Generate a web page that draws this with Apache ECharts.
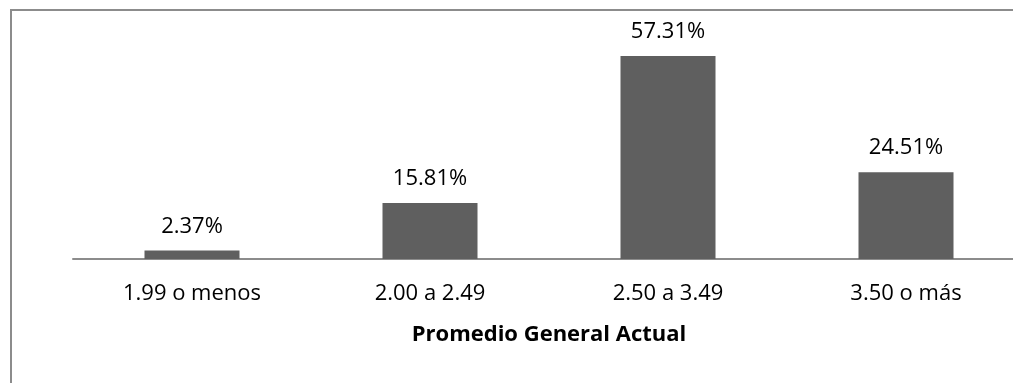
<!DOCTYPE html>
<html>
<head>
<meta charset="utf-8">
<script src="https://cdn.jsdelivr.net/npm/echarts@6/dist/echarts.min.js"></script>
<style>
  html, body { margin: 0; padding: 0; background: #ffffff; overflow: hidden; }
  #chart { width: 1013px; height: 383px; }
</style>
</head>
<body>
<div id="chart"></div>
<script>
// Distribución por promedio general actual (porcentaje de estudiantes)
const categories = ['1.99 o menos', '2.00 a 2.49', '2.50 a 3.49', '3.50 o más'];
const percentages = [2.37, 15.81, 57.31, 24.51];
const axisTitle = 'Promedio General Actual';

const fontFamily = '"Open Sans", "Liberation Sans", sans-serif';

const chart = echarts.init(document.getElementById('chart'), null, { renderer: 'canvas' });

chart.setOption({
  backgroundColor: '#ffffff',
  animation: false,
  // chart frame: only its top and left edges fall inside the canvas
  graphic: [
    {
      type: 'line',
      shape: { x1: 11, y1: 10, x2: 1200, y2: 10 },
      style: { stroke: '#8c8c8c', lineWidth: 2 },
      silent: true
    },
    {
      type: 'line',
      shape: { x1: 11, y1: 9, x2: 11, y2: 383 },
      style: { stroke: '#8c8c8c', lineWidth: 2 },
      silent: true
    }
  ],
  grid: { left: 73, top: 11, width: 952, height: 248, outerBoundsMode: 'none' },
  xAxis: {
    type: 'category',
    data: categories,
    name: axisTitle,
    nameLocation: 'middle',
    nameGap: 65,
    nameTextStyle: { fontFamily, fontSize: 22, fontWeight: 'bold', color: '#000' },
    axisLine: { show: true, lineStyle: { color: '#8c8c8c', width: 2 } },
    axisTick: { show: false },
    axisLabel: { fontFamily, fontSize: 22, color: '#000', margin: 24 }
  },
  yAxis: {
    type: 'value',
    min: 0,
    max: 70,
    show: false,
    splitLine: { show: false }
  },
  series: [{
    type: 'bar',
    data: percentages,
    barWidth: 95,
    itemStyle: { color: '#5f5f5f' },
    label: {
      show: true,
      position: 'top',
      distance: 13,
      fontFamily,
      fontSize: 22,
      color: '#000',
      formatter: p => p.value.toFixed(2) + '%'
    }
  }]
});
</script>
</body>
</html>
